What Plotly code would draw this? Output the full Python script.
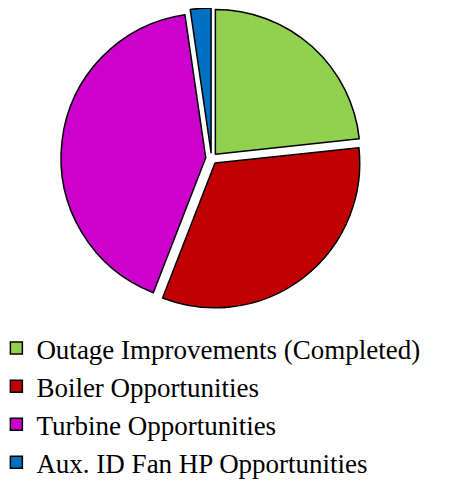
import plotly.graph_objects as go

labels = [
    "Outage Improvements (Completed)",
    "Boiler Opportunities",
    "Turbine Opportunities",
    "Aux. ID Fan HP Opportunities",
]
values = [23.3, 32.6, 41.8, 2.3]
colors = ["#92D050", "#C00000", "#CC00CC", "#0070C0"]

SERIF = "Liberation Serif, Times New Roman, serif"

fig = go.Figure(
    go.Pie(
        labels=labels,
        values=values,
        sort=False,
        direction="clockwise",
        rotation=0,
        pull=[0.04] * len(values),
        marker={"colors": colors, "line": {"color": "#000000", "width": 1.5}},
        textinfo="none",
        hoverinfo="label+percent",
        domain={"x": [53 / 465, 354 / 465], "y": [1 - 301 / 481, 1.0]},
    )
)

fig.update_layout(
    width=465,
    height=481,
    margin={"l": 0, "r": 0, "t": 0, "b": 0, "autoexpand": False},
    paper_bgcolor="white",
    plot_bgcolor="white",
    font={"family": SERIF, "color": "#000000", "size": 27},
    legend={
        "orientation": "v",
        "x": -0.025,
        "xanchor": "left",
        "y": 0.343,
        "yanchor": "top",
        "traceorder": "normal",
        "tracegroupgap": 0,
        "font": {"family": SERIF, "size": 27, "color": "#000000"},
    },
)

fig.write_html("out.html")
